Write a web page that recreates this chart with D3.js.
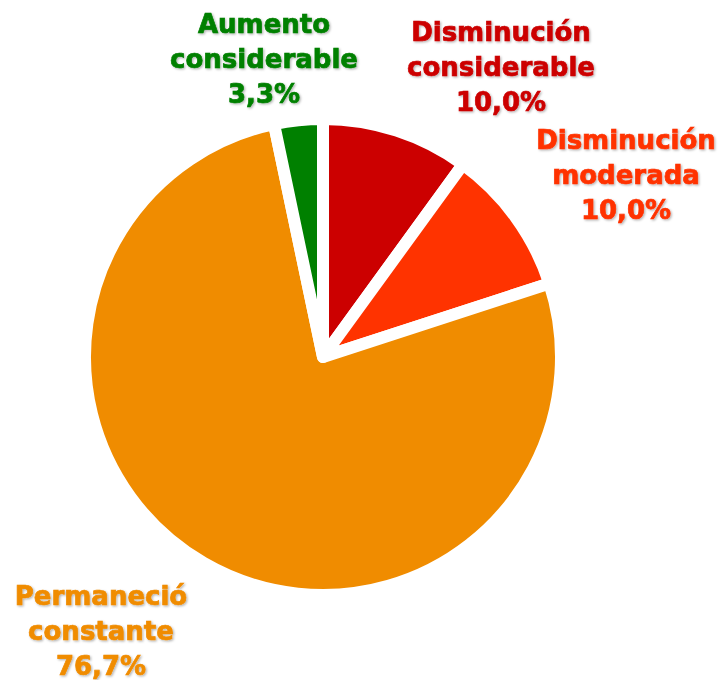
<!DOCTYPE html>
<html>
<head>
<meta charset="utf-8">
<script src="https://cdn.jsdelivr.net/npm/d3@7"></script>
<style>
  body { margin: 0; background: #fff; }
  .lbl { font-family: "DejaVu Sans", Verdana, sans-serif; font-weight: bold; font-size: 26px; }
</style>
</head>
<body>
<svg id="chart" width="722" height="680"></svg>
<script>
// data, clockwise from 12 o'clock
const categories = ["Disminución considerable", "Disminución moderada", "Permaneció constante", "Aumento considerable"];
const values = [10.0, 10.0, 76.7, 3.3];
const colors = ["#CC0000", "#FF3300", "#F08C00", "#008000"];

// layout
const cx = 323, cy = 357;
const radius = 238;
const lineGap = 35;
// first-line baseline of each label
const labelAnchors = [[501, 41], [626, 149], [101, 605], [264, 33]];

const svg = d3.select("#chart");

const defs = svg.append("defs");
defs.append("filter")
  .attr("id", "shadow")
  .attr("x", "-10%").attr("y", "-10%")
  .attr("width", "120%").attr("height", "130%")
  .append("feDropShadow")
  .attr("dx", 1.2).attr("dy", 1.2)
  .attr("stdDeviation", 0.8)
  .attr("flood-color", "#000")
  .attr("flood-opacity", 0.3);

const color = d3.scaleOrdinal().domain(categories).range(colors);

const pie = d3.pie().sort(null).value(d => d.value);
const arc = d3.arc().innerRadius(0).outerRadius(radius);

const data = categories.map((c, i) => ({ name: c, value: values[i] }));

const g = svg.append("g").attr("transform", `translate(${cx},${cy})`);

g.selectAll("path.slice")
  .data(pie(data))
  .enter().append("path")
  .attr("class", "slice")
  .attr("d", arc)
  .attr("fill", d => color(d.data.name))
  .attr("stroke", "#fff")
  .attr("stroke-width", 12)
  .attr("stroke-linejoin", "round");

const locale = d3.formatLocale({ decimal: ",", thousands: ".", grouping: [3], currency: ["", "€"] });
const fmt = locale.format(".1f");

const labels = svg.selectAll("text.lbl")
  .data(data)
  .enter().append("text")
  .attr("class", "lbl")
  .attr("text-anchor", "middle")
  .attr("fill", d => color(d.name))
  .attr("stroke", d => color(d.name))
  .attr("stroke-width", 0.7)
  .attr("filter", "url(#shadow)");

labels.each(function (d, i) {
  let t = d3.select(this);
  let [x, y] = labelAnchors[i];
  let lines = d.name.split(" ").concat([fmt(d.value) + "%"]);
  lines.forEach((s, j) => {
    t.append("tspan").attr("x", x).attr("y", y + j * lineGap).text(s);
  });
});
</script>
</body>
</html>
